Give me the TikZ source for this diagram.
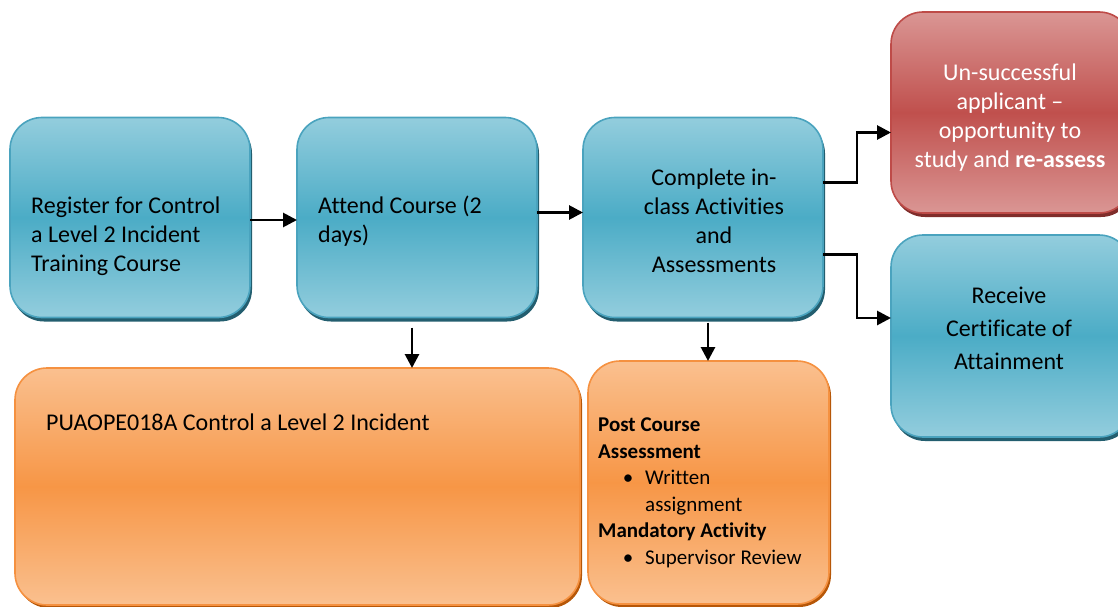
\documentclass[tikz,border=0pt]{standalone}
\usepackage{fontspec}
\setmainfont{Carlito}[Ligatures={TeX,NoCommon}]
\usetikzlibrary{positioning,shadows,arrows.meta,calc}

\definecolor{tealTop}{HTML}{93CDDD}
\definecolor{tealMid}{HTML}{4BACC6}
\definecolor{tealLine}{HTML}{4AA3BE}
\definecolor{tealShade}{HTML}{235E6F}
\definecolor{redTop}{HTML}{DA9694}
\definecolor{redMid}{HTML}{C0504D}
\definecolor{redLine}{HTML}{BE4B48}
\definecolor{redShade}{HTML}{7F2D2B}
\definecolor{orangeTop}{HTML}{FAC08F}
\definecolor{orangeMid}{HTML}{F79646}
\definecolor{orangeLine}{HTML}{F59140}
\definecolor{orangeShade}{HTML}{B65708}

\tikzset{
  box/.style={rectangle, rounded corners=32pt, minimum width=240pt, minimum height=200pt, inner sep=0pt, outer sep=0pt, line width=1.6pt},
  bluebox/.style={box, draw=tealLine, top color=tealTop, bottom color=tealTop, middle color=tealMid,
    drop shadow={shadow xshift=2pt, shadow yshift=-4pt, fill=tealShade, opacity=1}},
  redbox/.style={box, draw=redLine, top color=redTop, bottom color=redTop, middle color=redMid,
    drop shadow={shadow xshift=2pt, shadow yshift=-4pt, fill=redShade, opacity=1}},
  orangebox/.style={box, draw=orangeLine, top color=orangeTop, bottom color=orangeTop, middle color=orangeMid,
    drop shadow={shadow xshift=2pt, shadow yshift=-3pt, fill=orangeShade, opacity=1}},
  txt/.style={font=\fontsize{24}{29}\selectfont, inner sep=0pt, align=left},
  flow/.style={line width=2.8pt, -{Triangle[length=14pt,width=14pt]}}
}

\begin{document}
\begin{tikzpicture}[x=1pt,y=-1pt]
\useasboundingbox (0,0) rectangle (1118,607);
% top row
\node[bluebox] (reg) at (130,217.5) {};
\node[bluebox, right=47pt of reg] (attend) {};
\node[bluebox, right=46pt of attend] (complete) {};
% right column
\node[redbox, minimum height=201pt] (fail) at (1011,112.5) {};
\node[bluebox, minimum height=202pt, below=22pt of fail] (cert) {};
% bottom row
\node[orangebox, minimum width=565pt, minimum height=237pt] (unit) at (297.5,486.5) {};
\node[orangebox, minimum width=241pt, minimum height=243pt] (post) at (708.5,482.5) {};

% texts
\node[txt, anchor=west] (regtxt) at (31,236) {Register for Control\\a Level 2 Incident\\Training Course};
\node[txt, anchor=west] (attendtxt) at (318,221) {Attend Course (2\\days)};
\node[txt, align=center] (completetxt) at (714,221) {Complete in-\\class Activities\\and\\Assessments};
\node[txt, align=center, text=white] (failtxt) at (1010,118) {Un-successful\\applicant --\\opportunity to\\study and \textbf{re-assess}};
\node[txt, align=center, font=\fontsize{24}{33}\selectfont] (certtxt) at (1009,328) {Receive\\Certificate of\\Attainment};
\node[txt, anchor=west] (unittxt) at (46,422) {PUAOPE018A Control a Level 2 Incident};
\node[txt, anchor=north west, font=\fontsize{21}{26.5}\selectfont] (posttxt) at (598,418)
  {\textbf{Post Course}\\
   \textbf{Assessment}\\
   \makebox[47pt][r]{\textbullet\hspace{12pt}}Written\\
   \hspace*{47pt}assignment\\
   \textbf{Mandatory Activity}\\
   \makebox[47pt][r]{\textbullet\hspace{12pt}}Supervisor Review};

% connectors
\draw[flow] ([yshift=-2.5pt]reg.east) -- ([yshift=-2.5pt]attend.west);
\draw[flow] ([yshift=5pt]attend.east) -- ([yshift=5pt]complete.west);
\draw[flow] ([yshift=35pt]complete.east) -- ++(34pt,0pt) |- ([yshift=-20pt]fail.west);
\draw[flow] ([yshift=-37pt]complete.east) -- ++(34pt,0pt) |- ([yshift=18pt]cert.west);
\draw[flow] ([xshift=-5pt,yshift=-10pt]attend.south) -- ([xshift=-5pt]attend.south |- unit.north);
\draw[flow] ([xshift=5pt,yshift=-5pt]complete.south) -- ([xshift=5pt]complete.south |- post.north);
\end{tikzpicture}
\end{document}
